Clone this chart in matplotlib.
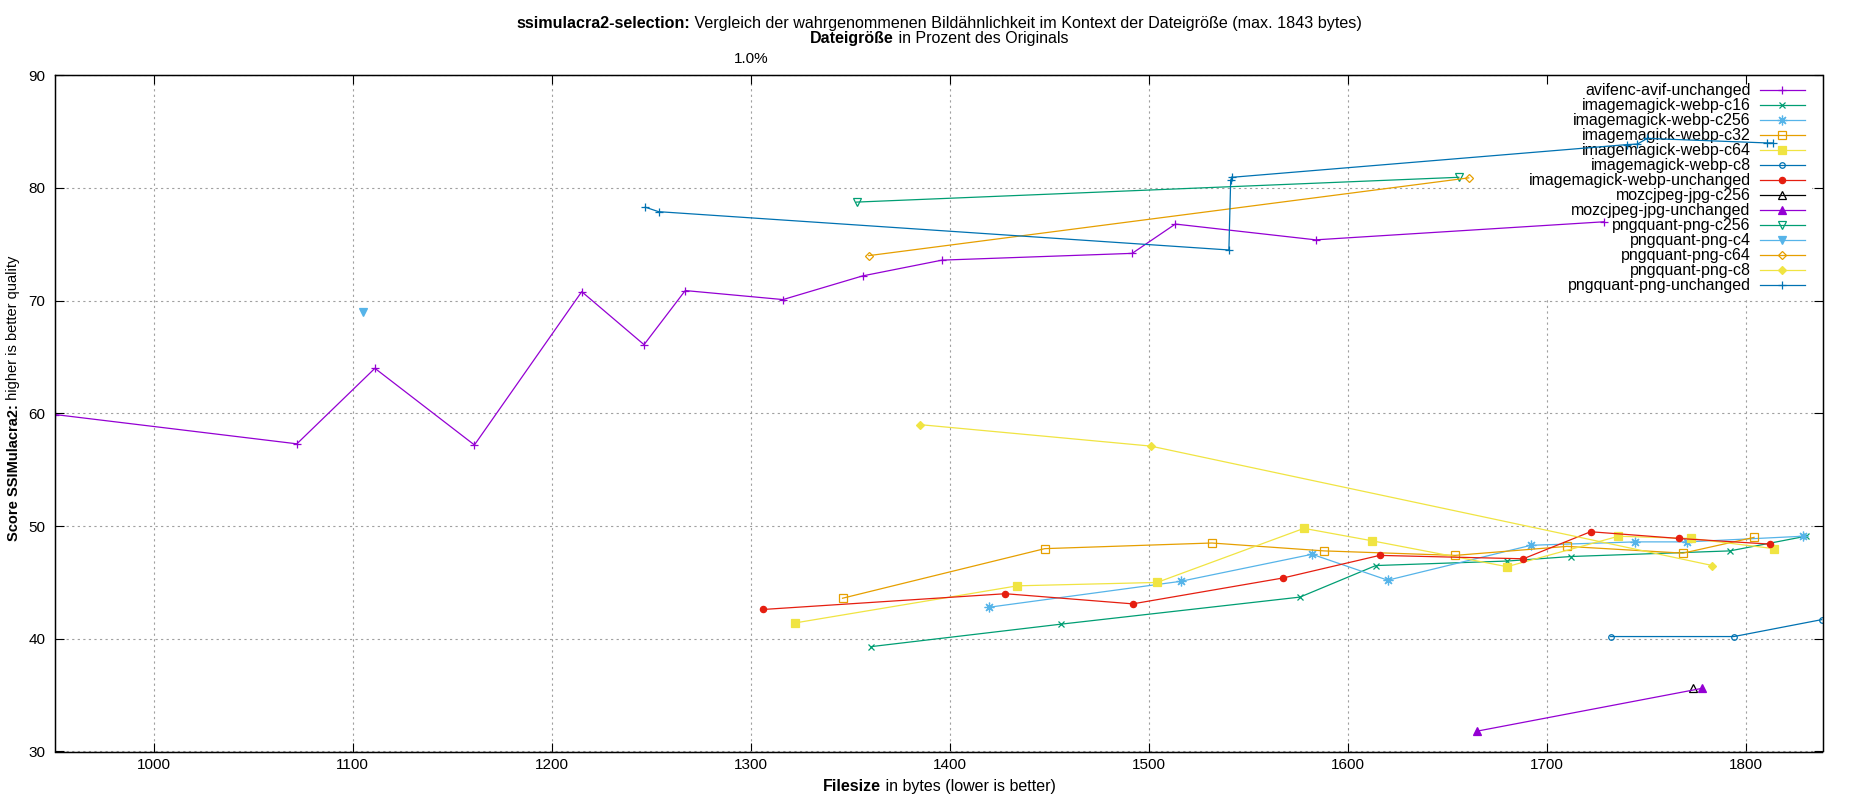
import matplotlib
matplotlib.use('Agg')
import matplotlib.pyplot as plt
from matplotlib.ticker import FixedLocator

plt.rcParams['font.family'] = ['Liberation Sans', 'DejaVu Sans']
plt.rcParams['font.size'] = 11.5

# ---- data (filesize in bytes, ssimulacra2 score) ----
avif_unchanged_x = [950.4, 1071.9, 1111.1, 1161.1, 1215.0, 1246.3, 1267.0, 1316.1,
                    1356.1, 1396.0, 1491.5, 1513.2, 1583.7, 1728.3]
avif_unchanged_y = [59.9, 57.3, 64.0, 57.2, 70.8, 66.1, 70.9, 70.1,
                    72.2, 73.6, 74.2, 76.8, 75.4, 77.0]

webp_c16_x = [1360.1, 1455.8, 1575.8, 1613.9, 1680.0, 1711.8, 1791.8, 1829.9]
webp_c16_y = [39.3, 41.3, 43.7, 46.5, 46.9, 47.3, 47.8, 49.1]

webp_c256_x = [1419.6, 1515.9, 1581.9, 1619.9, 1691.9, 1744.3, 1770.3, 1828.3]
webp_c256_y = [42.8, 45.1, 47.5, 45.2, 48.3, 48.6, 48.6, 49.1]

webp_c32_x = [1346.0, 1447.6, 1531.5, 1587.9, 1653.7, 1709.9, 1768.2, 1803.9]
webp_c32_y = [43.6, 48.0, 48.5, 47.8, 47.4, 48.2, 47.6, 49.0]

webp_c64_x = [1321.9, 1433.8, 1504.0, 1577.8, 1611.9, 1679.8, 1735.8, 1772.3, 1813.9]
webp_c64_y = [41.4, 44.7, 45.0, 49.8, 48.7, 46.4, 49.1, 48.9, 48.0]

webp_c8_x = [1731.9, 1793.8, 1837.9]
webp_c8_y = [40.2, 40.2, 41.7]

webp_unchanged_x = [1305.9, 1427.8, 1491.8, 1567.4, 1615.8, 1688.0, 1721.8, 1766.4, 1812.1]
webp_unchanged_y = [42.6, 44.0, 43.1, 45.4, 47.4, 47.1, 49.5, 48.9, 48.4]

jpg_c256_x = [1773.1]
jpg_c256_y = [35.6]

jpg_unchanged_x = [1664.6, 1777.7]
jpg_unchanged_y = [31.8, 35.6]

png_c256_x = [1353.1, 1655.6]
png_c256_y = [78.75, 80.95]

png_c4_x = [1105.1]
png_c4_y = [69.0]

png_c64_x = [1359.2, 1660.6]
png_c64_y = [74.0, 80.9]

png_c8_x = [1385.1, 1500.8, 1783.0]
png_c8_y = [59.0, 57.1, 46.5]

png_unchanged_x = [1246.9, 1253.6, 1540.1, 1541.0, 1541.7, 1740.0, 1745.3, 1750.3,
                   1810.2, 1813.2]
png_unchanged_y = [78.3, 77.9, 74.5, 80.7, 80.95, 83.85, 83.9, 84.4, 84.0, 84.0]

# name, x, y, colour, marker, filled
series = [
    ('avifenc-avif-unchanged', avif_unchanged_x, avif_unchanged_y, '#9400d3', '+', True),
    ('imagemagick-webp-c16', webp_c16_x, webp_c16_y, '#009e73', 'x', True),
    ('imagemagick-webp-c256', webp_c256_x, webp_c256_y, '#56b4e9', (8, 2, 0), True),
    ('imagemagick-webp-c32', webp_c32_x, webp_c32_y, '#e69f00', 's', False),
    ('imagemagick-webp-c64', webp_c64_x, webp_c64_y, '#f0e442', 's', True),
    ('imagemagick-webp-c8', webp_c8_x, webp_c8_y, '#0072b2', 'o', False),
    ('imagemagick-webp-unchanged', webp_unchanged_x, webp_unchanged_y, '#e51e10', 'o', True),
    ('mozcjpeg-jpg-c256', jpg_c256_x, jpg_c256_y, 'black', '^', False),
    ('mozcjpeg-jpg-unchanged', jpg_unchanged_x, jpg_unchanged_y, '#9400d3', '^', True),
    ('pngquant-png-c256', png_c256_x, png_c256_y, '#009e73', 'v', False),
    ('pngquant-png-c4', png_c4_x, png_c4_y, '#56b4e9', 'v', True),
    ('pngquant-png-c64', png_c64_x, png_c64_y, '#e69f00', 'D', False),
    ('pngquant-png-c8', png_c8_x, png_c8_y, '#f0e442', 'D', True),
    ('pngquant-png-unchanged', png_unchanged_x, png_unchanged_y, '#0072b2', '+', True),
]

W, H = 1850, 800
fig = plt.figure(figsize=(W / 100, H / 100), dpi=100)
ax = fig.add_axes([55 / W, 1 - 751.5 / H, (1822.5 - 55) / W, (751.5 - 75.3) / H])

for name, xs, ys, col, mk, filled in series:
    if mk == 'o':
        ms = 4.5 if filled else 4
    elif mk == 's':
        ms = 5.5
    elif mk == 'D':
        ms = 4.2
    elif mk == '+':
        ms = 6
    elif mk == 'x':
        ms = 5
    elif isinstance(mk, tuple):
        ms = 7
    else:
        ms = 5.5
    ax.plot(xs, ys, color=col, lw=0.9, marker=mk, ms=ms, mec=col, mew=0.9,
            mfc=col if filled else 'none', label=name)

ax.set_xlim(950.4, 1838.3)
ax.set_ylim(30, 90)
ax.set_xticks(range(1000, 1900, 100))
ax.set_yticks(range(30, 100, 10))
ax.grid(True, color='#a0a0a0', linestyle=(0, (2, 3)), linewidth=0.8)
ax.set_axisbelow(True)
ax.tick_params(direction='in', length=6.5, width=0.8, right=True, labelsize=11)
ax.tick_params(axis='x', pad=5)
ax.tick_params(axis='y', pad=7)
for sp in ax.spines.values():
    sp.set_linewidth(1.0)

# top axis: percentage of the original file size
ax2 = ax.twiny()
ax2.set_xlim(ax.get_xlim())
ax2.set_xticks([1300])
ax2.set_xticklabels(['1.0%'])
ax2.xaxis.set_minor_locator(FixedLocator(range(1000, 1900, 100)))
ax2.tick_params(which='both', direction='in', length=6.5, width=0.8, pad=7, labelsize=11)

leg = ax.legend(loc='upper right', bbox_to_anchor=((1812 - 55) / 1767.5, (751.5 - 76) / 676.2),
                markerfirst=False, fancybox=False, framealpha=1, edgecolor='none',
                facecolor='white', borderpad=0.45, labelspacing=0.0, handlelength=2.8,
                handletextpad=0.6, borderaxespad=0)
leg.set_zorder(1)


def rich_text(parts, x, y, rotation=0, size=11.5):
    # parts drawn one after the other, block centred on x (or y when rotated)
    r = fig.canvas.get_renderer()
    widths = []
    for s, bold in parts:
        t = fig.text(0, 0, s, fontsize=size, fontweight='bold' if bold else 'normal')
        widths.append(t.get_window_extent(r).width)
        t.remove()
    pos = -sum(widths) / 2
    for (s, bold), w in zip(parts, widths):
        if rotation == 0:
            fx, fy = (x + pos) / W, 1 - y / H
        else:
            fx, fy = x / W, 1 - (y - pos) / H
        fig.text(fx, fy, s, fontsize=size, fontweight='bold' if bold else 'normal',
                 rotation=rotation, rotation_mode='anchor', ha='left', va='baseline')
        pos += w


rich_text([('ssimulacra2-selection:', True),
           (' Vergleich der wahrgenommenen Bildähnlichkeit im Kontext der Dateigröße (max. 1843 bytes)', False)],
          939, 27.7, size=11.6)
rich_text([('Dateigröße', True), (' in Prozent des Originals', False)], 939, 43.2)
rich_text([('Filesize', True), (' in bytes (lower is better)', False)], 939, 791)
rich_text([('Score SSIMulacra2:', True), (' higher is better quality', False)], 17.5, 398,
          rotation=90, size=10.5)

fig.savefig('out.png', dpi=100)
